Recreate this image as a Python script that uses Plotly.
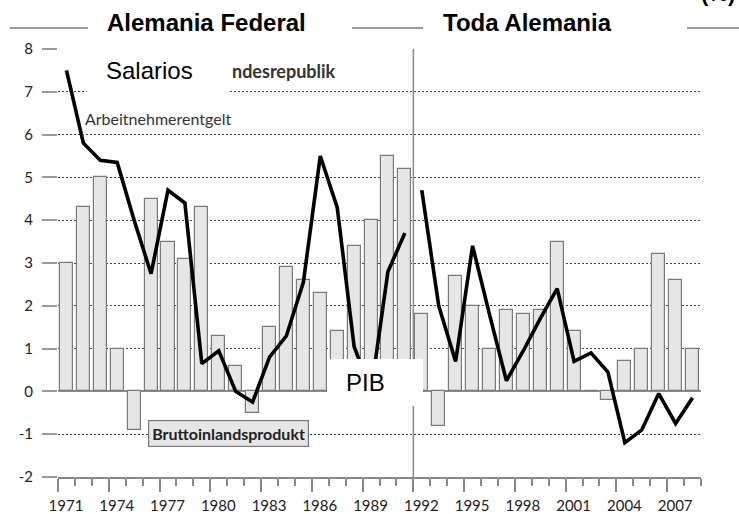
import plotly.graph_objects as go

# ---- data ----
years_west = list(range(1971, 1992))
years_all = list(range(1992, 2009))
years = years_west + years_all

gdp_growth = [3.0, 4.3, 5.0, 1.0, -0.9, 4.5, 3.5, 3.1, 4.3, 1.3, 0.6, -0.5, 1.5, 2.9,
              2.6, 2.3, 1.4, 3.4, 4.0, 5.5, 5.2,
              1.8, -0.8, 2.7, 2.0, 1.0, 1.9, 1.8, 1.9, 3.5, 1.4, 0.0, -0.2, 0.7, 1.0,
              3.2, 2.6, 1.0]

wages_west = [7.5, 5.8, 5.4, 5.35, 4.0, 2.75, 4.7, 4.4, 0.65, 0.95, 0.0, -0.25, 0.8,
              1.3, 2.55, 5.5, 4.3, 1.05, 0.0, 2.8, 3.7]
wages_all = [4.7, 2.0, 0.7, 3.4, 1.8, 0.25, 0.95, 1.7, 2.4, 0.7, 0.9, 0.45, -1.2, -0.9,
             -0.05, -0.75, -0.15]

y_ticks = [8, 7, 6, 5, 4, 3, 2, 1, 0, -1, -2]
y_tick_text = ["8", "7", "6", "5", "4", "3", "2", "1", "0", "-1", "-2"]

# ---- layout helpers (pixel -> paper) ----
W, H = 739, 514
ML, MR, MT, MB = 58, 38, 49, 37
PW, PH = W - ML - MR, H - MT - MB


def px(x):
    return (x - ML) / PW


def py(y):
    return (H - MB - y) / PH


def mid(y):
    return y + 0.5


fig = go.Figure()

fig.add_trace(go.Bar(
    x=[mid(y) for y in years], y=gdp_growth, width=0.77,
    marker=dict(color="#e6e6e6", line=dict(color="#7a7a7a", width=1.2)),
    showlegend=False, hoverinfo="skip"))

for xs, ys in ((years_west, wages_west), (years_all, wages_all)):
    fig.add_trace(go.Scatter(
        x=[mid(y) for y in xs], y=ys, mode="lines",
        line=dict(color="#000000", width=3.6),
        showlegend=False, hoverinfo="skip"))

tickfont = dict(family="Lato", size=15, color="#222222")

fig.update_layout(
    width=W, height=H,
    margin=dict(l=ML, r=MR, t=MT, b=MB, autoexpand=False),
    paper_bgcolor="white", plot_bgcolor="white",
    bargap=0,
    xaxis=dict(
        range=[1971, 2009], showgrid=False, zeroline=False, automargin=False,
        showline=True, linecolor="#8a8a8a", linewidth=1.5,
        ticks="outside", tick0=1971, dtick=3, ticklen=13,
        tickcolor="#8a8a8a", tickwidth=1.5,
        minor=dict(ticks="outside", tick0=1971, dtick=1, ticklen=7,
                   tickcolor="#8a8a8a", tickwidth=1.5, showgrid=False),
        tickfont=tickfont, ticklabelshift=8, ticklabelstandoff=1,
        fixedrange=True),
    yaxis=dict(
        range=[-2, 8], tickvals=y_ticks, ticktext=y_tick_text, automargin=False,
        showgrid=True, gridcolor="#444444", gridwidth=1.3, griddash="2px,2px",
        zeroline=True, zerolinecolor="#8a8a8a", zerolinewidth=1.5,
        showline=False, ticks="outside", ticklen=15, tickcolor="#9a9a9a",
        tickwidth=1.5, tickfont=tickfont, ticklabelstandoff=6,
        fixedrange=True),
)

# separator between West Germany and unified Germany
fig.add_shape(type="line", xref="x", yref="y domain", x0=1992, x1=1992, y0=0, y1=1,
              line=dict(color="#8a8a8a", width=1.5), layer="above")

# header rule and masking boxes
fig.add_shape(type="line", xref="paper", yref="paper", x0=px(10), x1=px(739),
              y0=py(28), y1=py(28), line=dict(color="#9a9a9a", width=2))
for x0, x1, y0, y1 in ((88, 352, -5, 42), (87, 230, 40, 103),
                       (423, 687, -5, 53), (327, 423, 359, 406)):
    fig.add_shape(type="rect", xref="paper", yref="paper",
                  x0=px(x0), x1=px(x1), y0=py(y1), y1=py(y0),
                  fillcolor="white", line=dict(width=0), layer="above")

ann = []
ann.append(dict(text="<b>Alemania Federal</b>", x=px(206), y=py(23),
                font=dict(family="Liberation Sans", size=24, color="#000")))
ann.append(dict(text="<b>Toda Alemania</b>", x=px(527), y=py(23),
                font=dict(family="Liberation Sans", size=24, color="#000")))
ann.append(dict(text="<b>(%)</b>", x=px(718), y=py(-6),
                font=dict(family="Liberation Sans", size=22, color="#000")))
ann.append(dict(text="Salarios", x=px(149), y=py(70),
                font=dict(family="Liberation Sans", size=24, color="#000")))
ann.append(dict(text="PIB", x=px(365), y=py(382),
                font=dict(family="Liberation Sans", size=24, color="#000")))
ann.append(dict(text="<b>ndesrepublik</b>", x=px(338), y=py(71), xanchor="right",
                font=dict(family="Lato", size=18, color="#333")))
ann.append(dict(text="Arbeitnehmerentgelt", x=px(83), y=py(119), xanchor="left",
                font=dict(family="Lato", size=16, color="#333")))
ann.append(dict(text="<b>Bruttoinlandsprodukt</b>", x=px(228.5), y=py(433.5),
                font=dict(family="Lato", size=16, color="#222"),
                bgcolor="#e6e6e6", bordercolor="#7a7a7a", borderwidth=1.2, borderpad=3))
for a in ann:
    a.setdefault("xanchor", "center")
    a.setdefault("yanchor", "middle")
    fig.add_annotation(xref="paper", yref="paper", showarrow=False, **a)

fig.write_html("out.html", config={"displayModeBar": False},
               post_script="document.body.style.margin='0';"
                           "document.body.style.overflow='hidden';")
